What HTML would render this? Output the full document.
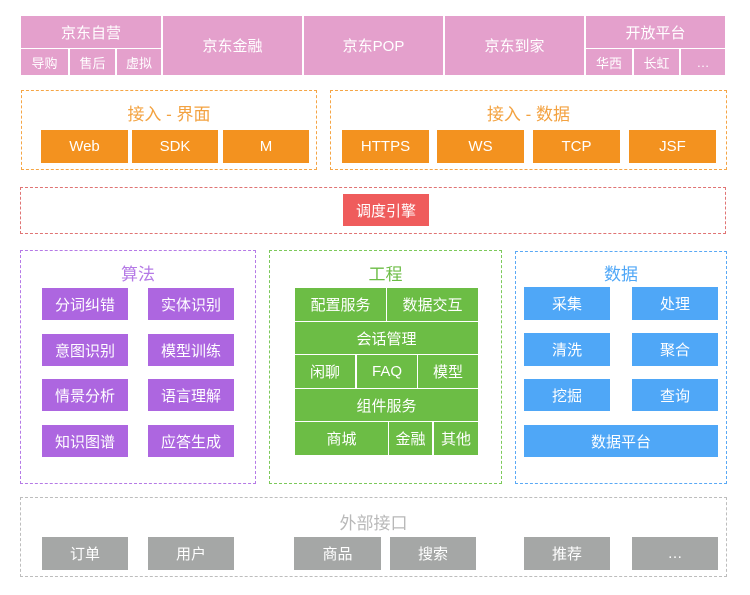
<!DOCTYPE html>
<html><head><meta charset="utf-8"><style>
body{margin:0;background:#fff;width:750px;height:595px;position:relative;overflow:hidden;font-family:"Liberation Sans","Noto Sans CJK SC",sans-serif;}
.b{position:absolute;display:flex;align-items:center;justify-content:center;color:#fff;font-size:15px;box-sizing:border-box;}
.p{background:#e4a0cc;font-size:15px;}
.ps{background:#e4a0cc;font-size:13px;}
.o{background:#f3921f;}
.r{background:#ef5c5c;}
.v{background:#ad66e0;}
.g{background:#6cbd45;}
.bl{background:#4fa7f7;}
.gr{background:#a5a7a6;}
.d{position:absolute;box-sizing:border-box;border:1.5px dashed;}
.t{position:absolute;text-align:center;font-size:17px;}
</style></head><body>
<!-- top -->
<div class="b p" style="left:21px;top:16px;width:140px;height:32px">京东自营</div>
<div class="b ps" style="left:21px;top:49px;width:47px;height:26px">导购</div>
<div class="b ps" style="left:70px;top:49px;width:45px;height:26px">售后</div>
<div class="b ps" style="left:117px;top:49px;width:44px;height:26px">虚拟</div>
<div class="b p" style="left:163px;top:16px;width:139px;height:59px">京东金融</div>
<div class="b p" style="left:304px;top:16px;width:139px;height:59px">京东POP</div>
<div class="b p" style="left:445px;top:16px;width:139px;height:59px">京东到家</div>
<div class="b p" style="left:586px;top:16px;width:139px;height:32px">开放平台</div>
<div class="b ps" style="left:586px;top:49px;width:46px;height:26px">华西</div>
<div class="b ps" style="left:634px;top:49px;width:45px;height:26px">长虹</div>
<div class="b ps" style="left:681px;top:49px;width:44px;height:26px">…</div>

<!-- access -->
<div class="d" style="left:21px;top:90px;width:296px;height:80px;border-color:#f5a545"></div>
<div class="t" style="left:21px;top:100px;width:296px;color:#f3a240">接入 - 界面</div>
<div class="b o" style="left:41px;top:130px;width:87px;height:33px">Web</div>
<div class="b o" style="left:132px;top:130px;width:86px;height:33px">SDK</div>
<div class="b o" style="left:223px;top:130px;width:86px;height:33px">M</div>
<div class="d" style="left:330px;top:90px;width:397px;height:80px;border-color:#f5a545"></div>
<div class="t" style="left:330px;top:100px;width:397px;color:#f3a240">接入 - 数据</div>
<div class="b o" style="left:342px;top:130px;width:87px;height:33px">HTTPS</div>
<div class="b o" style="left:437px;top:130px;width:87px;height:33px">WS</div>
<div class="b o" style="left:533px;top:130px;width:87px;height:33px">TCP</div>
<div class="b o" style="left:629px;top:130px;width:87px;height:33px">JSF</div>

<!-- scheduler -->
<div class="d" style="left:20px;top:187px;width:706px;height:47px;border-color:#e07474"></div>
<div class="b r" style="left:343px;top:194px;width:86px;height:32px">调度引擎</div>

<!-- algo -->
<div class="d" style="left:20px;top:250px;width:236px;height:234px;border-color:#b57ae6"></div>
<div class="t" style="left:20px;top:260px;width:236px;color:#b57ae6">算法</div>
<div class="b v" style="left:42px;top:288px;width:86px;height:32px">分词纠错</div>
<div class="b v" style="left:148px;top:288px;width:86px;height:32px">实体识别</div>
<div class="b v" style="left:42px;top:334px;width:86px;height:32px">意图识别</div>
<div class="b v" style="left:148px;top:334px;width:86px;height:32px">模型训练</div>
<div class="b v" style="left:42px;top:379px;width:86px;height:32px">情景分析</div>
<div class="b v" style="left:148px;top:379px;width:86px;height:32px">语言理解</div>
<div class="b v" style="left:42px;top:425px;width:86px;height:32px">知识图谱</div>
<div class="b v" style="left:148px;top:425px;width:86px;height:32px">应答生成</div>

<!-- engineering -->
<div class="d" style="left:269px;top:250px;width:233px;height:234px;border-color:#7cc95a"></div>
<div class="t" style="left:269px;top:260px;width:233px;color:#6cbd45">工程</div>
<div class="b g" style="left:295px;top:288px;width:91px;height:33px">配置服务</div>
<div class="b g" style="left:387px;top:288px;width:91px;height:33px">数据交互</div>
<div class="b g" style="left:295px;top:322px;width:183px;height:32px">会话管理</div>
<div class="b g" style="left:295px;top:355px;width:60px;height:33px">闲聊</div>
<div class="b g" style="left:357px;top:355px;width:60px;height:33px">FAQ</div>
<div class="b g" style="left:418px;top:355px;width:60px;height:33px">模型</div>
<div class="b g" style="left:295px;top:389px;width:183px;height:32px">组件服务</div>
<div class="b g" style="left:295px;top:422px;width:93px;height:33px">商城</div>
<div class="b g" style="left:389px;top:422px;width:43px;height:33px">金融</div>
<div class="b g" style="left:434px;top:422px;width:44px;height:33px">其他</div>

<!-- data -->
<div class="d" style="left:515px;top:251px;width:212px;height:233px;border-color:#5aa9f5"></div>
<div class="t" style="left:515px;top:260px;width:212px;color:#4fa7f7">数据</div>
<div class="b bl" style="left:524px;top:287px;width:86px;height:33px">采集</div>
<div class="b bl" style="left:632px;top:287px;width:86px;height:33px">处理</div>
<div class="b bl" style="left:524px;top:333px;width:86px;height:33px">清洗</div>
<div class="b bl" style="left:632px;top:333px;width:86px;height:33px">聚合</div>
<div class="b bl" style="left:524px;top:379px;width:86px;height:32px">挖掘</div>
<div class="b bl" style="left:632px;top:379px;width:86px;height:32px">查询</div>
<div class="b bl" style="left:524px;top:425px;width:194px;height:32px">数据平台</div>

<!-- external -->
<div class="d" style="left:20px;top:497px;width:707px;height:80px;border-color:#bdbdbd"></div>
<div class="t" style="left:20px;top:509px;width:707px;color:#b8b8b8">外部接口</div>
<div class="b gr" style="left:42px;top:537px;width:86px;height:33px">订单</div>
<div class="b gr" style="left:148px;top:537px;width:86px;height:33px">用户</div>
<div class="b gr" style="left:294px;top:537px;width:87px;height:33px">商品</div>
<div class="b gr" style="left:390px;top:537px;width:86px;height:33px">搜索</div>
<div class="b gr" style="left:524px;top:537px;width:86px;height:33px">推荐</div>
<div class="b gr" style="left:632px;top:537px;width:86px;height:33px">…</div>
</body></html>
